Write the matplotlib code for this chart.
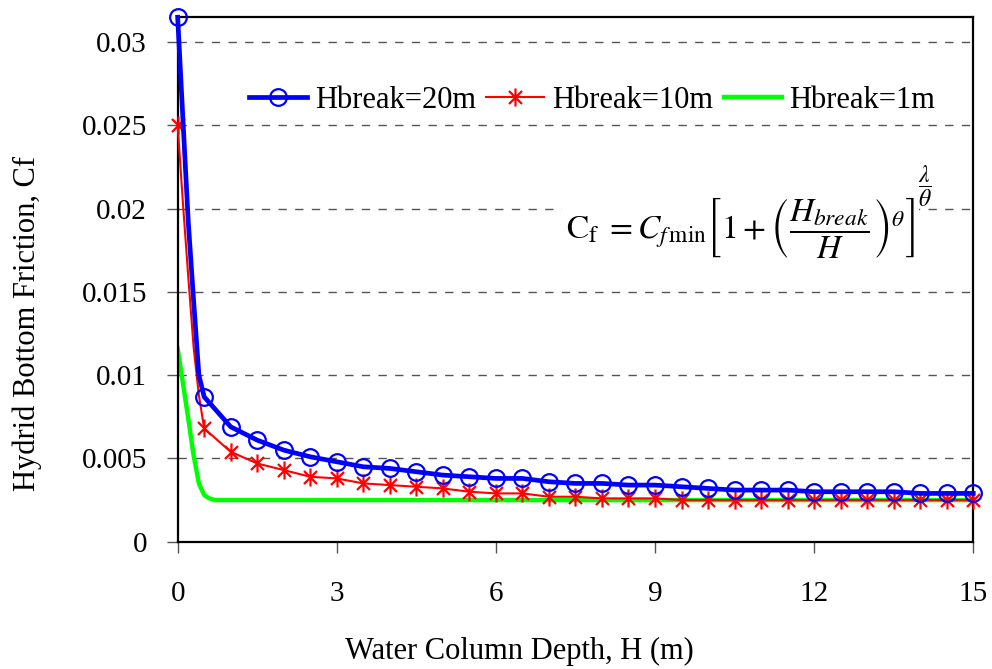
import matplotlib
matplotlib.use("Agg")
import matplotlib.pyplot as plt
from matplotlib.path import Path

plt.rcParams['font.family'] = ['Liberation Serif', 'DejaVu Serif']
plt.rcParams['mathtext.fontset'] = 'stix'

# Hbreak = 20 m (markers every 0.5 m, extra unmarked points near H = 0)
h_20 = [0, 0.1, 0.2, 0.3, 0.4, 0.5, 1.0, 1.5, 2.0, 2.5, 3.0, 3.5, 4.0, 4.5, 5.0, 5.5,
        6.0, 6.5, 7.0, 7.5, 8.0, 8.5, 9.0, 9.5, 10.0, 10.5, 11.0, 11.5, 12.0, 12.5,
        13.0, 13.5, 14.0, 14.5, 15.0]
cf_20 = [0.0315, 0.0253, 0.0192, 0.0145, 0.0100, 0.0087, 0.0069, 0.0061, 0.0055, 0.0051,
         0.0048, 0.0045, 0.0044, 0.0042, 0.0040, 0.0039, 0.0038, 0.0038, 0.0036, 0.0035,
         0.0035, 0.0034, 0.0034, 0.0033, 0.0032, 0.0031, 0.0031, 0.0031, 0.0030, 0.0030,
         0.0030, 0.0030, 0.0029, 0.0029, 0.0029]

# Hbreak = 10 m
h_10 = [0, 0.1, 0.2, 0.3, 0.4, 0.5, 1.0, 1.5, 2.0, 2.5, 3.0, 3.5, 4.0, 4.5, 5.0, 5.5,
        6.0, 6.5, 7.0, 7.5, 8.0, 8.5, 9.0, 9.5, 10.0, 10.5, 11.0, 11.5, 12.0, 12.5,
        13.0, 13.5, 14.0, 14.5, 15.0]
cf_10 = [0.0250, 0.0203, 0.0159, 0.0117, 0.0088, 0.0068, 0.0054, 0.0047, 0.0043, 0.0039,
         0.0038, 0.0035, 0.0034, 0.0033, 0.0032, 0.0030, 0.0029, 0.0029, 0.0027, 0.0027,
         0.0026, 0.0026, 0.0026, 0.0025, 0.0025, 0.0025, 0.0025, 0.0025, 0.0025, 0.0025,
         0.0025, 0.0025, 0.0025, 0.0025, 0.0025]

# Hbreak = 1 m (line only)
h_1 = [0, 0.1, 0.2, 0.3, 0.4, 0.5, 0.6, 0.7, 1.0, 2.0, 3.0, 4.0, 5.0, 6.0, 7.0, 8.0,
       9.0, 10.0, 11.0, 12.0, 13.0, 14.0, 15.0]
cf_1 = [0.0116, 0.0095, 0.0074, 0.0052, 0.0035, 0.0028, 0.0026, 0.0025, 0.0025, 0.0025,
        0.0025, 0.0025, 0.0025, 0.0025, 0.0025, 0.0025, 0.0025, 0.0025, 0.0025, 0.0025,
        0.0025, 0.0025, 0.0025]

x_ticks = [0, 3, 6, 9, 12, 15]
y_ticks = [0, 0.005, 0.01, 0.015, 0.02, 0.025, 0.03]
y_tick_labels = ['0', '0.005', '0.01', '0.015', '0.02', '0.025', '0.03']
series_labels = ['Hbreak=20m', 'Hbreak=10m', 'Hbreak=1m']

# marker only on the half-metre points
def half_metre(h):
    return [i for i, v in enumerate(h) if abs(v * 2 - round(v * 2)) < 1e-9]

# Excel style star: vertical bar plus an X
star = Path([(0, -1), (0, 1), (-0.72, -0.72), (0.72, 0.72), (-0.72, 0.72), (0.72, -0.72)],
            [Path.MOVETO, Path.LINETO] * 3)

fig = plt.figure(figsize=(9.92, 6.69), dpi=100)
ax = fig.add_axes([0.1791, 0.1903, 0.8020, 0.7839])

ax.plot(h_20, cf_20, color='#0000FF', lw=3.4, marker='o', markersize=12,
        markerfacecolor='none', markeredgecolor='#0000FF', markeredgewidth=1.6,
        markevery=half_metre(h_20), label=series_labels[0], zorder=4, clip_on=False)
ax.plot(h_10, cf_10, color='#FF0000', lw=1.5, marker=star, markersize=13,
        markeredgecolor='#FF0000', markeredgewidth=1.6,
        markevery=half_metre(h_10), label=series_labels[1], zorder=3, clip_on=False)
ax.plot(h_1, cf_1, color='#00FF00', lw=3.2, label=series_labels[2], zorder=2)

ax.set_xlim(0, 15)
ax.set_ylim(0, 0.0315)
ax.set_xticks(x_ticks)
ax.set_yticks(y_ticks)
ax.set_yticklabels(y_tick_labels)

ax.yaxis.grid(True, color='#555555', linestyle=(0, (6, 6)), linewidth=1)
ax.set_axisbelow(True)

for s in ax.spines.values():
    s.set_linewidth(1.6)
ax.tick_params(axis='both', direction='out', length=8, width=1, color='#555555',
               labelsize=21)
ax.tick_params(axis='x', pad=20)
ax.tick_params(axis='y', pad=14)

ax.set_xlabel('Water Column Depth, H (m)', fontsize=22)
ax.set_ylabel('Hydrid Bottom Friction, Cf', fontsize=22)
ax.xaxis.set_label_coords(0.43, -0.182)
ax.yaxis.set_label_coords(-0.171, 0.417)

leg = ax.legend(loc='center', bbox_to_anchor=(0.521, 0.842), ncol=3, fontsize=22,
                handlelength=1.9, handletextpad=0.25, columnspacing=0.35,
                borderpad=0.2, frameon=True, facecolor='white', edgecolor='none',
                framealpha=1, fancybox=False)
leg.set_zorder(5)

# formula: main part plus the lambda/theta exponent set beside it
eq = ax.text(0.708, 0.600,
             r'$\mathrm{C}_{\mathrm{f}}\;=C_{f\,\min}\left[1+\left(\dfrac{H_{break}}{H}\right)^{\theta}\right]$',
             transform=ax.transAxes, ha='center', va='center', fontsize=24, zorder=5,
             bbox=dict(facecolor='white', edgecolor='none', pad=3))
ax.annotate(r'$\dfrac{\lambda}{\theta}$', xy=(1.0, 1.0), xycoords=eq,
            xytext=(2, 6), textcoords='offset points', ha='left', va='center',
            fontsize=17, zorder=5)

fig.savefig('out.png', dpi=100)
